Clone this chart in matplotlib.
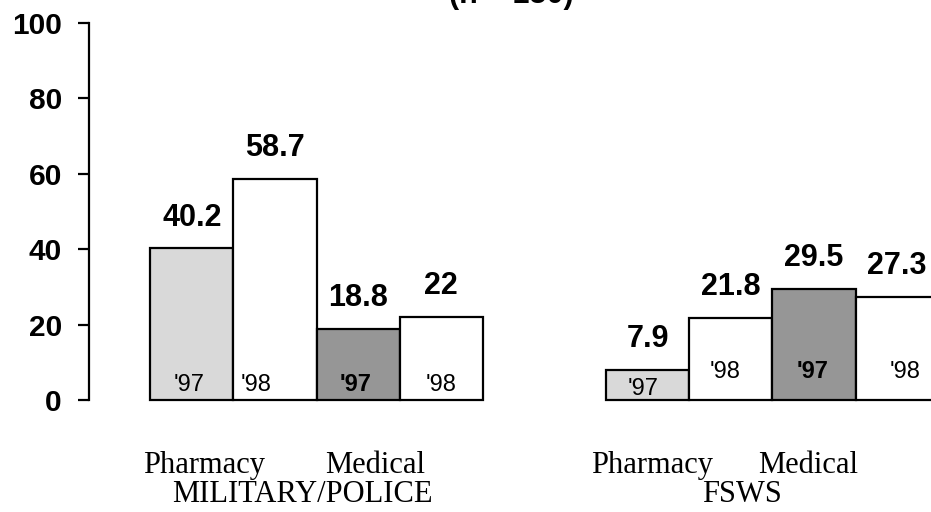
"""
Bar chart: Military/Police vs FSWS, Pharmacy and Medical, '97 vs '98
"""

import matplotlib
matplotlib.use('Agg')
import matplotlib.pyplot as plt
import numpy as np

# Data
groups = ['MILITARY/POLICE', 'FSWS']
sources = ['Pharmacy', 'Medical']
years = ["'97", "'98", "'97", "'98"]
military_values = [40.2, 58.7, 18.8, 22]
fsws_values = [7.9, 21.8, 29.5, 27.3]
value_labels = [['40.2', '58.7', '18.8', '22'], ['7.9', '21.8', '29.5', '27.3']]
y_ticks = [0, 20, 40, 60, 80, 100]
title_text = '(n = 150)'

# Styles
bar_colors = ['#d9d9d9', '#ffffff', '#969696', '#ffffff']
year_bold = [False, False, True, False]
sans = ['Liberation Sans', 'DejaVu Sans']
serif = ['Liberation Serif', 'DejaVu Serif']

# Layout (in bar-width units from the y axis)
group_left = [0.735, 6.214]
year_label_y = [[2.4, 2.4, 2.4, 2.4], [1.3, 5.8, 5.8, 5.8]]
year_label_dx = [[-0.03, -0.23, -0.03, 0.0], [-0.05, -0.07, -0.02, 0.09]]
source_label_x = [[1.38, 3.44], [6.77, 8.64]]
group_label_x = [2.56, 7.85]

fig = plt.figure(figsize=(9.31, 5.12), dpi=100)
ax = fig.add_axes([89 / 931, 112 / 512, 842 / 931, 377 / 512])

for g, values in enumerate([military_values, fsws_values]):
    x = group_left[g] + 0.5 + np.arange(len(values))
    ax.bar(x, values, width=1.0, color=bar_colors, edgecolor='black',
           linewidth=1.6, clip_on=False, zorder=2)

    for i, v in enumerate(values):
        # value above bar
        ax.annotate(value_labels[g][i], xy=(x[i], v), xytext=(0, 16.5),
                    textcoords='offset points', ha='center', va='baseline',
                    fontsize=22, fontweight='bold', family=sans,
                    annotation_clip=False)
        # year inside bar
        ax.text(x[i] + year_label_dx[g][i], year_label_y[g][i], years[i],
                ha='center', va='baseline', fontsize=17, family=sans,
                fontweight='bold' if year_bold[i] else 'normal',
                zorder=3, clip_on=False)

    # category labels underneath
    for s, name in enumerate(sources):
        ax.text(source_label_x[g][s], -19.4, name, ha='center', va='baseline',
                fontsize=22, family=serif, clip_on=False)
    ax.text(group_label_x[g], -27.1, groups[g], ha='center', va='baseline',
            fontsize=22, family=serif, clip_on=False)

ax.set_xlim(0, 842 / 83.2)
ax.set_ylim(0, 100)
ax.set_yticks(y_ticks)
ax.set_yticklabels([str(t) for t in y_ticks], fontsize=21.5,
                   fontweight='bold', family=sans)
ax.tick_params(axis='y', direction='out', length=8, width=1.6, pad=11.5)
ax.set_xticks([])

for side in ['top', 'right', 'bottom']:
    ax.spines[side].set_visible(False)
ax.spines['left'].set_linewidth(1.6)
ax.patch.set_alpha(0)

# title, mostly cut off by the top of the figure (as in the source image)
fig.text(511 / 931, 1 - 3 / 512, title_text, ha='center', va='baseline',
         fontsize=22, fontweight='bold', family=sans)

fig.savefig('out.png', dpi=100)
